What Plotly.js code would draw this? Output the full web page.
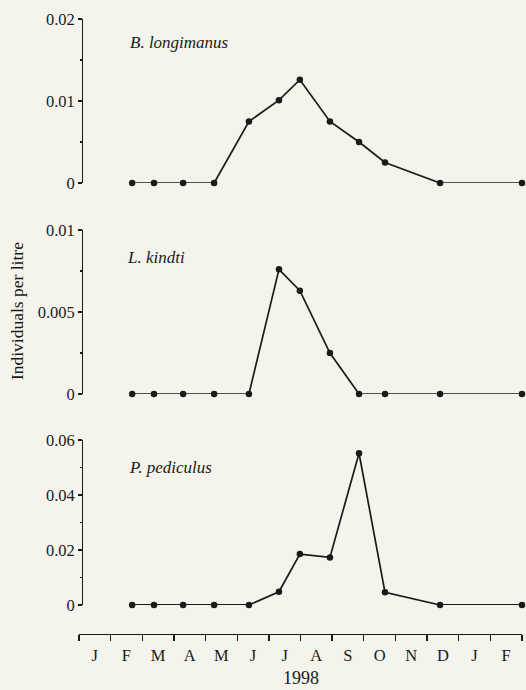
<!DOCTYPE html>
<html>
<head>
<meta charset="utf-8">
<script src="https://cdn.plot.ly/plotly-3.0.1.min.js"></script>
<style>html,body{margin:0;padding:0;background:#f5f4ec;}</style>
</head>
<body>
<div id="chart" style="width:526px;height:690px;"></div>
<script>
// Sampling positions in months from 1 Jan 1998 (0 = start of Jan 1998)
const sampleMonths = [1.68, 2.37, 3.29, 4.27, 5.37, 6.32, 6.98, 7.93, 8.85, 9.67, 11.41, 14.0];
const monthLabels = ["J","F","M","A","M","J","J","A","S","O","N","D","J","F"];
const bLongimanus = [0, 0, 0, 0, 0.0075, 0.0101, 0.0126, 0.0075, 0.0050, 0.0025, 0, 0];
const lKindti     = [0, 0, 0, 0, 0, 0.0076, 0.0063, 0.0025, 0, 0, 0, 0];
const pPediculus  = [0, 0, 0, 0, 0, 0.0048, 0.0185, 0.0173, 0.0552, 0.0046, 0, 0];
const species = ["B. longimanus", "L. kindti", "P. pediculus"];
const yTicks1 = [0, 0.01, 0.02], yText1 = ["0", "0.01", "0.02"];
const yTicks2 = [0, 0.005, 0.01], yText2 = ["0", "0.005", "0.01"];
const yTicks3 = [0, 0.02, 0.04, 0.06], yText3 = ["0", "0.02", "0.04", "0.06"];
const yearLabel = "1998";
const yTitle = "Individuals per litre";

const fam = "'Liberation Serif', 'Times New Roman', serif";
const ink = "#1a1a1a";
const font = {family: fam, size: 16.5, color: ink};

function tr(y, ya) {
  return {x: sampleMonths, y: y, xaxis: "x", yaxis: ya, type: "scatter", mode: "lines+markers",
    line: {color: ink, width: 1.7}, marker: {color: ink, size: 6.5}, cliponaxis: false, hoverinfo: "skip"};
}
function yax(domain, range, tv, tt, minorDt) {
  return {domain: domain, range: range, anchor: "free", position: 0.007, tickmode: "array",
    tickvals: tv, ticktext: tt, ticks: "outside", ticklen: 4, tickwidth: 1.2, tickcolor: ink,
    showline: true, linecolor: ink, linewidth: 1.3, showgrid: false, zeroline: false, tickfont: font,
    minor: {tickmode: "linear", tick0: 0, dtick: minorDt, ticks: "outside", ticklen: 2, tickcolor: ink, tickwidth: 1.2, showgrid: false}};
}
const midVals = monthLabels.map((_, i) => i + 0.5);
const italic = {family: fam, size: 17, color: ink, style: "italic"};
const layout = {
  width: 526, height: 690,
  margin: {l: 79, r: 4, t: 19, b: 56},
  paper_bgcolor: "#f5f4ec", plot_bgcolor: "#f5f4ec",
  showlegend: false, font: font,
  xaxis: {range: [0, 14], anchor: "free", position: 0, showline: true, linecolor: ink, linewidth: 1.3,
    tickmode: "array", tickvals: midVals, ticktext: monthLabels, ticks: "outside", ticklen: 6,
    tickcolor: "rgba(0,0,0,0)", tickfont: font, showgrid: false, zeroline: false,
    minor: {tickmode: "linear", tick0: 0, dtick: 1, ticks: "outside", ticklen: 6, tickwidth: 1.3, tickcolor: ink, showgrid: false}},
  yaxis: yax([0.7333, 1.0], [0, 0.02], yTicks1, yText1, 0.005),
  yaxis2: yax([0.3902, 0.6569], [0, 0.01], yTicks2, yText2, 0.0025),
  yaxis3: yax([0.0472, 0.3154], [0, 0.06], yTicks3, yText3, 0.01),
  annotations: [
    {text: species[0], xref: "paper", yref: "paper", x: 0.1106, y: 0.961, xanchor: "left", yanchor: "middle", showarrow: false, font: italic},
    {text: species[1], xref: "paper", yref: "paper", x: 0.1038, y: 0.6114, xanchor: "left", yanchor: "middle", showarrow: false, font: italic},
    {text: species[2], xref: "paper", yref: "paper", x: 0.1084, y: 0.2715, xanchor: "left", yanchor: "middle", showarrow: false, font: italic},
    {text: yTitle, xref: "paper", yref: "paper", x: -0.14, y: 0.525, xanchor: "center", yanchor: "middle", textangle: -90, showarrow: false, font: {family: fam, size: 17.5, color: ink}},
    {text: yearLabel, xref: "paper", yref: "paper", x: 0.5, y: -0.0715, xanchor: "center", yanchor: "middle", showarrow: false, font: {family: fam, size: 18, color: ink}}
  ]
};
Plotly.newPlot("chart", [tr(bLongimanus, "y"), tr(lKindti, "y2"), tr(pPediculus, "y3")], layout, {staticPlot: true});
</script>
</body>
</html>
